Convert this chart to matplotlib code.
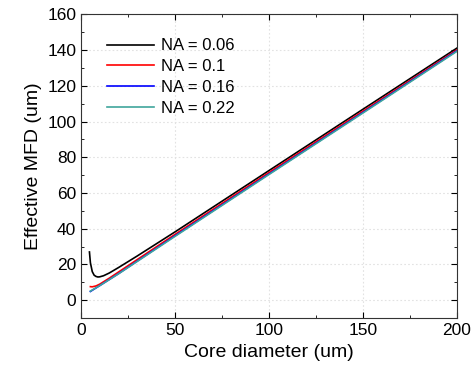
import matplotlib
matplotlib.use("Agg")
import matplotlib.pyplot as plt
from matplotlib.ticker import MultipleLocator

plt.rcParams['font.family'] = ['Liberation Sans', 'DejaVu Sans']

# data
d_black = [4.5, 5, 6, 7, 8, 9, 10, 12, 15, 20, 30, 50, 100, 150, 200]
mfd_black = [27, 21, 16, 14, 13.3, 13, 13.1, 13.7, 15.2, 18.3, 24.8, 38.2, 72.5, 106.8, 141]

d_red = [5, 6, 8, 10, 15, 20, 50, 100, 150, 200]
mfd_red = [7.6, 7.5, 8, 9, 12.3, 15.8, 36.8, 71.4, 105.7, 140]

d_blue = [5, 10, 20, 50, 100, 150, 200]
mfd_blue = [4.9, 8.2, 14.9, 36, 70.6, 105, 139.5]

d_teal = [5, 10, 20, 50, 100, 150, 200]
mfd_teal = [5.1, 8.2, 14.8, 35.7, 70.3, 104.7, 139.2]

labels = ["NA = 0.06", "NA = 0.1", "NA = 0.16", "NA = 0.22"]
colors = ["black", "red", "blue", "#3fa59c"]

fig = plt.figure(figsize=(4.72, 3.76), dpi=100)
ax = fig.add_axes([0.1716, 0.154, 0.796, 0.808])

ax.plot(d_black, mfd_black, color=colors[0], lw=1.2, label=labels[0])
ax.plot(d_red, mfd_red, color=colors[1], lw=1.2, label=labels[1])
ax.plot(d_blue, mfd_blue, color=colors[2], lw=1.2, label=labels[2])
ax.plot(d_teal, mfd_teal, color=colors[3], lw=1.2, label=labels[3])

ax.set_xlim(0, 200)
ax.set_ylim(-10, 160)
ax.xaxis.set_major_locator(MultipleLocator(50))
ax.xaxis.set_minor_locator(MultipleLocator(25))
ax.yaxis.set_major_locator(MultipleLocator(20))
ax.yaxis.set_minor_locator(MultipleLocator(10))
ax.tick_params(which="both", direction="in", top=True, right=True, labelsize=12.5)
ax.tick_params(which="major", length=4)
ax.tick_params(which="minor", length=2.5)
ax.grid(True, which="major", color="#e2e2e2", linestyle=(0, (1.5, 2)), lw=0.8)
for s in ax.spines.values():
    s.set_color("#333333")

ax.set_xlabel("Core diameter (um)", fontsize=14)
ax.set_ylabel("Effective MFD (um)", fontsize=14)

ax.legend(loc="upper left", frameon=False, fontsize=12, handlelength=2.8,
          handletextpad=0.4, labelspacing=0.35, bbox_to_anchor=(0.03, 0.97))

fig.savefig("out.png", dpi=100)
